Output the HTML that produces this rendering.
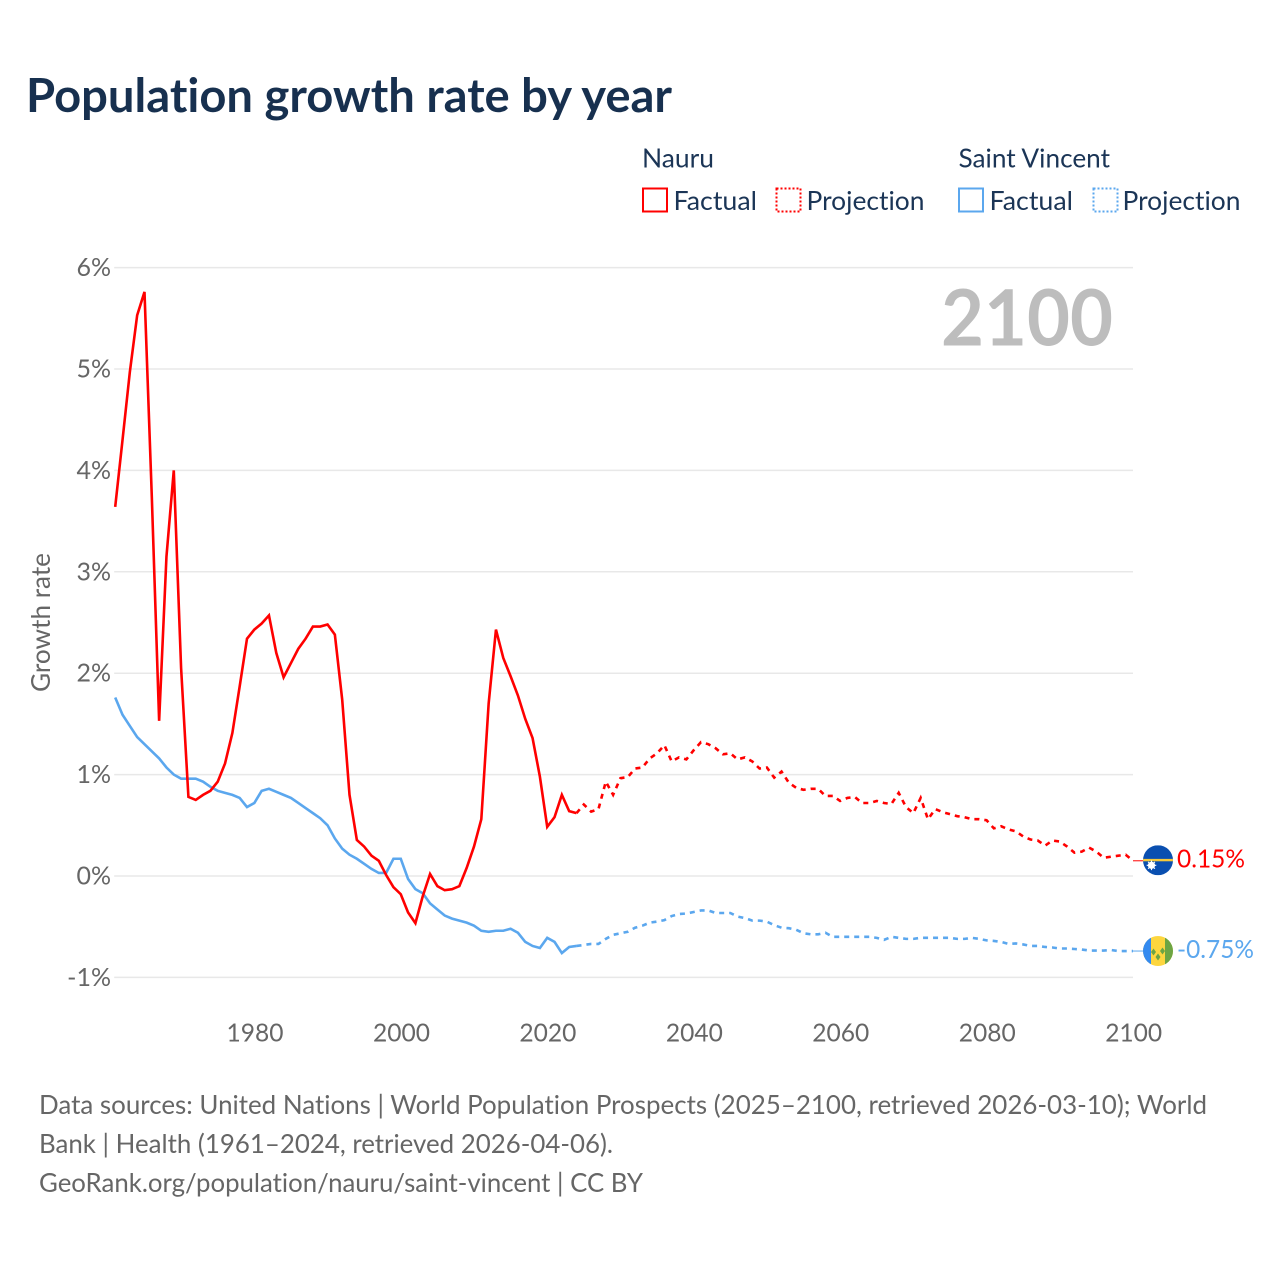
<!DOCTYPE html>
<html lang="en">
<head>
<meta charset="utf-8">
<title>Population growth rate by year</title>
<style>
html,body{margin:0;padding:0;background:#fff;}
svg{display:block;}
text{font-family:"Lato","Carlito","Liberation Sans",sans-serif;font-variant-ligatures:none;}
</style>
</head>
<body>
<svg id="chart" xmlns="http://www.w3.org/2000/svg" width="1280" height="1280" viewBox="0 0 1280 1280">
  <rect x="0" y="0" width="1280" height="1280" fill="#ffffff"/>
  <text x="26" y="112" font-size="47" font-weight="700" fill="#17304f" textLength="646" lengthAdjust="spacingAndGlyphs">Population growth rate by year</text>

  <g font-size="26" fill="#1b3556">
    <text x="642" y="167.5" textLength="72" lengthAdjust="spacingAndGlyphs">Nauru</text>
    <text x="958.5" y="167.5" textLength="151.5" lengthAdjust="spacingAndGlyphs">Saint Vincent</text>
    <rect x="643" y="188.5" width="24" height="23" fill="none" stroke="#ff0000" stroke-width="2"/>
    <text x="673.5" y="210" textLength="83.5" lengthAdjust="spacingAndGlyphs">Factual</text>
    <rect x="776.5" y="188.5" width="24" height="23" fill="none" stroke="#ff0000" stroke-width="2" stroke-dasharray="2 2"/>
    <text x="806.5" y="210" textLength="118" lengthAdjust="spacingAndGlyphs">Projection</text>
    <rect x="959" y="188.5" width="24" height="23" fill="none" stroke="#5ba7ee" stroke-width="2"/>
    <text x="989.5" y="210" textLength="83.5" lengthAdjust="spacingAndGlyphs">Factual</text>
    <rect x="1093.5" y="188.5" width="24" height="23" fill="none" stroke="#5ba7ee" stroke-width="2" stroke-dasharray="2 2"/>
    <text x="1122.5" y="210" textLength="118" lengthAdjust="spacingAndGlyphs">Projection</text>
  </g>

  <g id="grid"></g>
  <g id="yticks"></g>
  <g id="xticks"></g>

  <text transform="translate(50,622.5) rotate(-90)" text-anchor="middle" font-size="26" fill="#666666" textLength="139" lengthAdjust="spacingAndGlyphs">Growth rate</text>
  <text x="941" y="345.5" font-size="78" font-weight="700" fill="#bdbdbd" textLength="172" lengthAdjust="spacingAndGlyphs">2100</text>

  <g id="series"></g>

  <defs>
    <clipPath id="flag-clip"><circle cx="0" cy="0" r="15"/></clipPath>
  </defs>
  <g id="flag-nauru">
    <g clip-path="url(#flag-clip)">
      <rect x="-15" y="-15" width="30" height="30" fill="#0a4fb0"/>
      <rect x="-15" y="-1.4" width="30" height="2.4" fill="#f5c93a"/>
      <circle cx="-6.5" cy="5" r="3.6" fill="#ffffff"/>
      <path d="M-6.5 0.2V9.8M-11.3 5H-1.7M-9.9 1.6L-3.1 8.4M-3.1 1.6L-9.9 8.4" stroke="#ffffff" stroke-width="1.1" fill="none"/>
    </g>
  </g>
  <g id="flag-saint-vincent">
    <g clip-path="url(#flag-clip)">
      <rect x="-15" y="-15" width="30" height="30" fill="#fdd63f"/>
      <rect x="-15" y="-15" width="8" height="30" fill="#338af0"/>
      <rect x="7" y="-15" width="8" height="30" fill="#6da544"/>
      <path d="M-4.5 -2.5L-2 1L-4.5 4.5L-7 1ZM4.5 -3.5L7 0L4.5 3.5L2 0ZM0 2.5L2.5 6L0 9.5L-2.5 6Z" fill="#6da544"/>
    </g>
  </g>

  <g id="endlabels"></g>

  <g font-size="26" fill="#666666">
    <text x="39" y="1114" textLength="1168" lengthAdjust="spacingAndGlyphs">Data sources: United Nations | World Population Prospects (2025–2100, retrieved 2026-03-10); World</text>
    <text x="39" y="1153" textLength="574" lengthAdjust="spacingAndGlyphs">Bank | Health (1961–2024, retrieved 2026-04-06).</text>
    <text x="39" y="1192" textLength="604" lengthAdjust="spacingAndGlyphs">GeoRank.org/population/nauru/saint-vincent | CC BY</text>
  </g>
</svg>

<script>
const firstYear = 1961;
const splitYear = 2024;
const lastYear = 2100;

const nauruFactual = [
  3.64,4.30,4.97,5.53,5.76,3.74,1.53,3.15,4.00,2.05,
  0.78,0.75,0.80,0.84,0.93,1.11,1.41,1.87,2.34,2.43,
  2.49,2.57,2.20,1.96,2.10,2.24,2.34,2.46,2.46,2.48,
  2.38,1.74,0.80,0.355,0.29,0.20,0.15,0.01,-0.11,-0.18,
  -0.36,-0.465,-0.20,0.02,-0.10,-0.14,-0.13,-0.10,0.08,0.29,
  0.56,1.70,2.43,2.15,1.97,1.78,1.55,1.36,0.98,0.485,
  0.58,0.80,0.64,0.62
];
const nauruProjection = [
  0.62,0.705,0.635,0.66,0.93,0.80,
  0.965,0.975,1.06,1.07,1.16,1.21,1.29,1.13,1.17,1.15,
  1.24,1.32,1.30,1.26,1.20,1.21,1.15,1.17,1.13,1.06,
  1.07,0.97,1.03,0.92,0.87,0.85,0.86,0.86,0.79,0.79,
  0.74,0.77,0.78,0.72,0.72,0.74,0.72,0.71,0.82,0.68,
  0.62,0.77,0.56,0.66,0.63,0.61,0.59,0.58,0.56,0.56,
  0.55,0.47,0.49,0.46,0.44,0.39,0.36,0.35,0.30,0.35,
  0.34,0.29,0.23,0.24,0.28,0.24,0.18,0.19,0.20,0.21,
  0.15
];
const vincentFactual = [
  1.76,1.59,1.48,1.37,1.30,1.23,1.16,1.07,1.00,0.96,
  0.96,0.96,0.93,0.88,0.84,0.82,0.80,0.77,0.68,0.72,
  0.84,0.86,0.83,0.80,0.77,0.72,0.67,0.62,0.57,0.50,
  0.37,0.27,0.21,0.17,0.12,0.07,0.03,0.03,0.17,0.17,
  -0.03,-0.13,-0.17,-0.27,-0.33,-0.39,-0.42,-0.44,-0.46,-0.49,
  -0.54,-0.55,-0.54,-0.54,-0.52,-0.56,-0.65,-0.69,-0.71,-0.61,
  -0.65,-0.76,-0.70,-0.69
];
const vincentProjection = [
  -0.69,-0.68,-0.67,-0.67,-0.62,-0.58,
  -0.565,-0.55,-0.51,-0.49,-0.46,-0.45,-0.435,-0.395,-0.375,-0.37,
  -0.355,-0.34,-0.34,-0.365,-0.365,-0.365,-0.40,-0.415,-0.44,-0.44,
  -0.45,-0.485,-0.51,-0.515,-0.53,-0.565,-0.575,-0.575,-0.56,-0.60,
  -0.60,-0.60,-0.60,-0.60,-0.60,-0.61,-0.63,-0.60,-0.61,-0.62,
  -0.62,-0.61,-0.61,-0.61,-0.61,-0.61,-0.62,-0.62,-0.61,-0.62,
  -0.635,-0.64,-0.65,-0.67,-0.665,-0.675,-0.69,-0.69,-0.70,-0.705,
  -0.715,-0.715,-0.72,-0.725,-0.735,-0.735,-0.735,-0.73,-0.74,-0.74,
  -0.74
];
const yTickValues = [-1,0,1,2,3,4,5,6];
const yTickLabels = ['-1%','0%','1%','2%','3%','4%','5%','6%'];
const xTickYears = [1980,2000,2020,2040,2060,2080,2100];
const xTickLabels = ['1980','2000','2020','2040','2060','2080','2100'];
const endValueLabels = ['0.15%','-0.75%'];

const NS = 'http://www.w3.org/2000/svg';
const plotLeft = 115.2, plotRight = 1133, zeroY = 876, pxPerPercent = 101.4;
const RED = '#ff0000', BLUE = '#5ba7ee';

function xScale(year){
  return plotLeft + (year - firstYear) * (plotRight - plotLeft) / (lastYear - firstYear);
}
function yScale(value){
  return zeroY - value * pxPerPercent;
}
function linePath(values, startYear){
  return values.map(function(v, i){
    return (i ? 'L' : 'M') + xScale(startYear + i).toFixed(2) + ' ' + yScale(v).toFixed(2);
  }).join('');
}
function makeSeries(values, startYear, color, dash){
  const p = document.createElementNS(NS, 'path');
  p.setAttribute('d', linePath(values, startYear));
  p.setAttribute('fill', 'none');
  p.setAttribute('stroke', color);
  p.setAttribute('stroke-width', '2.6');
  p.setAttribute('stroke-linejoin', 'miter');
  if (dash) p.setAttribute('stroke-dasharray', dash);
  document.getElementById('series').appendChild(p);
  return p;
}
function makeText(parentId, str, x, y, size, fill, anchor){
  const t = document.createElementNS(NS, 'text');
  t.setAttribute('x', x);
  t.setAttribute('y', y);
  t.setAttribute('font-size', size);
  t.setAttribute('fill', fill);
  t.setAttribute('text-anchor', anchor);
  t.textContent = str;
  document.getElementById(parentId).appendChild(t);
  return t;
}

yTickValues.forEach(function(v, i){
  const g = document.createElementNS(NS, 'line');
  g.setAttribute('x1', plotLeft - 1);
  g.setAttribute('x2', plotRight);
  g.setAttribute('y1', yScale(v));
  g.setAttribute('y2', yScale(v));
  g.setAttribute('stroke', '#e8e8e8');
  g.setAttribute('stroke-width', '1.5');
  
  
  document.getElementById('grid').appendChild(g);

  const t = makeText('yticks', yTickLabels[i], 111, yScale(v) + 8.5, 25, '#666666', 'end');
  
  
});

xTickYears.forEach(function(year, i){
  const t = makeText('xticks', xTickLabels[i], xScale(year) + 0.7, 1041.5, 25.5, '#666666', 'middle');
  t.setAttribute('textLength', '57');
  t.setAttribute('lengthAdjust', 'spacingAndGlyphs');
  
  
});

const vincentFactualLine = makeSeries(vincentFactual, firstYear, BLUE);



const vincentProjectionLine = makeSeries(vincentProjection, splitYear, BLUE, '5 5');



const nauruFactualLine = makeSeries(nauruFactual, firstYear, RED);



const nauruProjectionLine = makeSeries(nauruProjection, splitYear, RED, '5 5');



const nauruEnd = yScale(nauruProjection[nauruProjection.length - 1]);
const vincentEnd = yScale(vincentProjection[vincentProjection.length - 1]);

const nauruConnector = document.createElementNS(NS, 'line');
nauruConnector.setAttribute('x1', plotRight);
nauruConnector.setAttribute('x2', 1143);
nauruConnector.setAttribute('y1', nauruEnd);
nauruConnector.setAttribute('y2', nauruEnd);
nauruConnector.setAttribute('stroke', RED);
nauruConnector.setAttribute('stroke-width', '1');


document.getElementById('series').appendChild(nauruConnector);

const vincentConnector = document.createElementNS(NS, 'line');
vincentConnector.setAttribute('x1', plotRight);
vincentConnector.setAttribute('x2', 1143);
vincentConnector.setAttribute('y1', vincentEnd);
vincentConnector.setAttribute('y2', vincentEnd);
vincentConnector.setAttribute('stroke', BLUE);
vincentConnector.setAttribute('stroke-width', '1');


document.getElementById('series').appendChild(vincentConnector);

document.getElementById('flag-nauru').setAttribute('transform', 'translate(1158,' + (nauruEnd - 0.5) + ')');
document.getElementById('flag-saint-vincent').setAttribute('transform', 'translate(1158,' + vincentEnd + ')');

const nauruLabel = makeText('endlabels', endValueLabels[0], 1177, nauruEnd + 6.5, 25.5, RED, 'start');
nauruLabel.setAttribute('textLength', '68');
nauruLabel.setAttribute('lengthAdjust', 'spacingAndGlyphs');



const vincentLabel = makeText('endlabels', endValueLabels[1], 1177, vincentEnd + 7, 25.5, BLUE, 'start');
vincentLabel.setAttribute('textLength', '77');
vincentLabel.setAttribute('lengthAdjust', 'spacingAndGlyphs');


</script>
</body>
</html>
